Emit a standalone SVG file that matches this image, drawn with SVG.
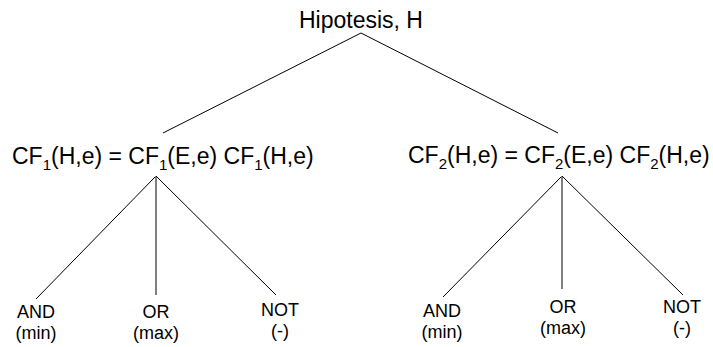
<svg xmlns="http://www.w3.org/2000/svg" width="713" height="347" viewBox="0 0 713 347">
<style>
text{font-family:"Liberation Sans",Arial,sans-serif;fill:#000}
.big{font-size:23px}
.lab{font-size:18px;text-anchor:middle}
.sub{font-size:15px}
.ln{stroke:#000;stroke-width:1;fill:none}
.or{stroke:#808080;stroke-width:2;fill:none}
</style>
<rect width="713" height="347" fill="#fff"/>
<g id="connectors">
<line class="ln" x1="361" y1="33" x2="163" y2="133"/>
<line class="ln" x1="361" y1="33" x2="558" y2="133"/>
<line class="ln" x1="156" y1="176" x2="36" y2="299"/>
<line class="or" x1="156" y1="176" x2="156" y2="295"/>
<line class="ln" x1="156" y1="176" x2="276" y2="295"/>
<line class="ln" x1="562" y1="176" x2="443" y2="297"/>
<line class="or" x1="562" y1="176" x2="562" y2="289"/>
<line class="ln" x1="562" y1="176" x2="683" y2="295"/>
</g>
<g id="hipotesis"><text class="big" x="361" y="28" text-anchor="middle">Hipotesis, H</text></g>
<g id="cf1"><text class="big" x="12" y="164">CF<tspan class="sub" dy="6">1</tspan><tspan dy="-6">(H,e) = CF</tspan><tspan class="sub" dy="6">1</tspan><tspan dy="-6">(E,e) CF</tspan><tspan class="sub" dy="6">1</tspan><tspan dy="-6">(H,e)</tspan></text></g>
<g id="cf2"><text class="big" x="408" y="163">CF<tspan class="sub" dy="6">2</tspan><tspan dy="-6">(H,e) = CF</tspan><tspan class="sub" dy="6">2</tspan><tspan dy="-6">(E,e) CF</tspan><tspan class="sub" dy="6">2</tspan><tspan dy="-6">(H,e)</tspan></text></g>
<g id="and1"><text class="lab" x="36" y="318">AND</text><text class="lab" x="36" y="339">(min)</text></g>
<g id="or1"><text class="lab" x="156" y="318">OR</text><text class="lab" x="156" y="339">(max)</text></g>
<g id="not1"><text class="lab" x="280" y="316">NOT</text><text class="lab" x="280" y="337">(-)</text></g>
<g id="and2"><text class="lab" x="442" y="317">AND</text><text class="lab" x="442" y="338">(min)</text></g>
<g id="or2"><text class="lab" x="563" y="313">OR</text><text class="lab" x="563" y="334">(max)</text></g>
<g id="not2"><text class="lab" x="682" y="313">NOT</text><text class="lab" x="682" y="334">(-)</text></g>
</svg>
